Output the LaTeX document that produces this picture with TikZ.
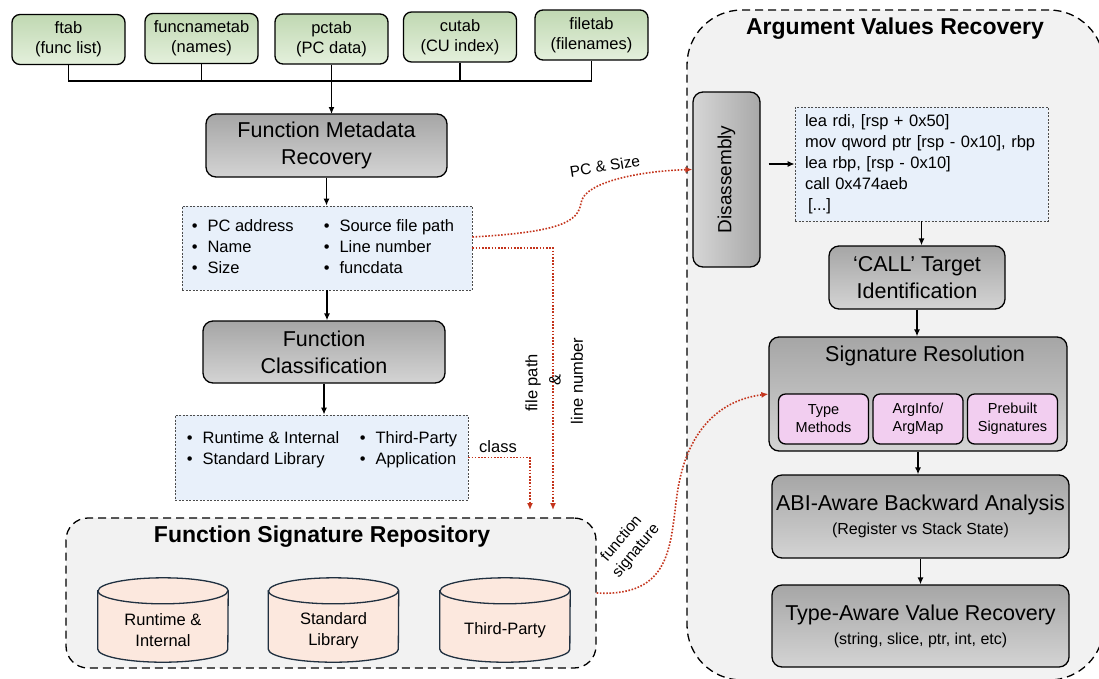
\documentclass[tikz,border=0pt]{standalone}
\usepackage{fontspec}
\setmainfont{Liberation Sans}
\usetikzlibrary{arrows.meta}

\definecolor{tblgreen}{RGB}{192,216,178}
\definecolor{tblgreenlight}{RGB}{228,240,220}
\definecolor{infoblue}{RGB}{232,240,250}
\definecolor{flowred}{RGB}{196,52,28}
\definecolor{dbfill}{RGB}{252,232,222}
\definecolor{dbline}{RGB}{32,48,64}
\definecolor{subpink}{RGB}{242,206,240}

\begin{document}
\begin{tikzpicture}[x=1pt, y=-1pt, >={Latex[length=7pt,width=6pt]}]
	\tikzstyle{tbl}=[draw, rounded corners=8pt, line width=1.3pt, top color=tblgreen, bottom color=tblgreenlight, minimum width=113pt, minimum height=50pt, align=center, font=\fontsize{16.5}{20}\selectfont]
	\tikzstyle{stage}=[draw, rounded corners=10pt, line width=1.3pt, top color=black!35, bottom color=black!17, align=center, font=\fontsize{21.5}{27}\selectfont]
	\tikzstyle{info}=[draw=black!70, dash pattern=on 2pt off 1.5pt, line width=0.8pt, fill=infoblue]
	\tikzstyle{group}=[draw, dash pattern=on 8pt off 5pt, line width=1.3pt, fill=black!5]
	\tikzstyle{grouptitle}=[font=\bfseries\fontsize{23}{28}\selectfont]
	\tikzstyle{db}=[minimum width=130pt, minimum height=58pt, inner sep=0pt]
	\tikzstyle{dbtext}=[align=center, font=\fontsize{16.5}{21}\selectfont]
	\tikzstyle{sub}=[draw, rounded corners=7pt, fill=subpink, line width=1.3pt, minimum width=90pt, minimum height=50pt, align=center, font=\fontsize{14.5}{18}\selectfont]
	\tikzstyle{bullets}=[font=\fontsize{16.5}{21}\selectfont, inner sep=0pt]
	\tikzstyle{lbl}=[font=\fontsize{16.5}{20}\selectfont]
	\tikzstyle{redflow}=[->, draw=flowred, line width=1.6pt, dash pattern=on 1.6pt off 1.6pt]

	\useasboundingbox (0,0) rectangle (1099,678);
	\fill[white] (0,0) rectangle (1099,678);

	% the two dashed groups
	\node[group, rounded corners=55pt, minimum width=417pt, minimum height=670pt] (avr) at (895.5,345) {};
	\node[grouptitle] (avrtitle) at (895,29) {Argument Values Recovery};
	\node[group, rounded corners=22pt, minimum width=530pt, minimum height=150pt] (repo) at (331,593) {};
	\node[grouptitle] (repotitle) at (322,537) {Function Signature Repository};

	% pclntab tables
	\node[tbl] (ftab) at (68.5,39.5) {ftab\\(func list)};
	\node[tbl] (funcnametab) at (201.5,38.5) {funcnametab\\(names)};
	\node[tbl] (pctab) at (331.5,39) {pctab\\(PC data)};
	\node[tbl] (cutab) at (460,37) {cutab\\(CU index)};
	\node[tbl] (filetab) at (591.5,35) {filetab\\(filenames)};

	\coordinate (bus) at (332,81);
	\draw[line width=1.3pt] (ftab.south) |- (filetab.south |- bus) -- (filetab.south);
	\draw[line width=1.3pt] (funcnametab.south) -- (funcnametab.south |- bus);
	\draw[line width=1.3pt] (cutab.south) -- (cutab.south |- bus);
	\draw[->, line width=1.3pt] (pctab.south) -- (pctab.south |- 0,114);

	% left column
	\node[stage, minimum width=241pt, minimum height=63pt] (fmr) at (326.5,145.5) {Function Metadata\\Recovery};
	\node[info, minimum width=290pt, minimum height=84pt] (meta) at (327,248) {};
	\node[bullets] (metalist) at (323,248) {\begin{tabular}{@{}p{132pt}@{}l@{}}
		\textbullet\hspace{10pt}PC address & \textbullet\hspace{10pt}Source file path\\
		\textbullet\hspace{10pt}Name & \textbullet\hspace{10pt}Line number\\
		\textbullet\hspace{10pt}Size & \textbullet\hspace{10pt}funcdata
	\end{tabular}};
	\node[stage, minimum width=242pt, minimum height=62pt] (fcls) at (324,352) {Function\\Classification};
	\node[info, minimum width=293pt, minimum height=85pt] (cls) at (321.5,457.5) {};
	\node[bullets] (clslist) at (322,449.5) {\begin{tabular}{@{}p{173pt}@{}l@{}}
		\textbullet\hspace{10pt}Runtime \& Internal & \textbullet\hspace{10pt}Third-Party\\
		\textbullet\hspace{10pt}Standard Library & \textbullet\hspace{10pt}Application
	\end{tabular}};

	\draw[->, line width=1.3pt] (fmr.south) -- (fmr.south |- meta.north);
	\draw[->, line width=1.3pt] (meta.south) -- (meta.south |- fcls.north);
	\draw[->, line width=1.3pt] (fcls.south) -- (fcls.south |- cls.north);

	% signature databases
	\node[db] (dbrt) at (163,620) {};
	\node[db] (dbstd) at (333.5,620) {};
	\node[db] (dbtp) at (505,620) {};
	\foreach \db in {dbrt,dbstd,dbtp}{
		\draw[draw=dbline, fill=dbfill, line width=1.3pt] (\db.north west) -- (\db.south west) arc[start angle=180, end angle=360, x radius=65pt, y radius=13pt] -- (\db.north east) arc[start angle=0, end angle=180, x radius=65pt, y radius=13pt] -- cycle;
		\draw[draw=dbline, line width=1.3pt] (\db.north west) arc[start angle=180, end angle=360, x radius=65pt, y radius=13pt];
	}
	\node[dbtext] (dbrttext) at (163,630) {Runtime \&\\Internal};
	\node[dbtext] (dbstdtext) at (333.5,631) {Standard\\Library};
	\node[dbtext] (dbtptext) at (505,630) {Third-Party};

	% argument recovery pipeline
	\node[stage, left color=black!16, right color=black!34, minimum width=67pt, minimum height=175pt, font=\fontsize{19}{23}\selectfont] (dis) at (726.5,179.5) {\rotatebox{90}{Disassembly}};
	\node[info, text width=233pt, inner xsep=10pt, minimum height=114pt, align=left, font=\fontsize{16.5}{21}\selectfont] (code) at (921.5,164) {lea rdi, [rsp + 0x50]\\mov qword ptr [rsp - 0x10], rbp\\lea rbp, [rsp - 0x10]\\call 0x474aeb\\\hspace{3pt}[...]};
	\node[stage, minimum width=176pt, minimum height=63pt] (calltgt) at (917,277.5) {‘CALL’ Target\\Identification};
	\node[stage, minimum width=298pt, minimum height=114pt] (sigres) at (918,394) {};
	\node[font=\fontsize{21.5}{26}\selectfont] (sigrestitle) at (925,356) {Signature Resolution};
	\node[sub] (typemeth) at (823.5,419) {Type\\Methods};
	\node[sub] (arginfo) at (918,419) {ArgInfo/\\ArgMap};
	\node[sub] (prebuilt) at (1012.5,419) {Prebuilt\\Signatures};
	\node[stage, minimum width=297pt, minimum height=83pt] (abi) at (920.5,516.5) {ABI-Aware Backward Analysis\\[-3pt]{\fontsize{16}{20}\selectfont (Register vs Stack State)}};
	\node[stage, minimum width=297pt, minimum height=82pt] (tav) at (920.5,626) {Type-Aware Value Recovery\\[-3pt]{\fontsize{16}{20}\selectfont (string, slice, ptr, int, etc)}};

	\draw[->, line width=1.3pt, shorten <=8pt] (dis.east |- code.west) -- (code.west);
	\draw[->, line width=1.3pt] (code.south) -- (code.south |- calltgt.north);
	\draw[->, line width=1.3pt] (calltgt.south) -- (calltgt.south |- sigres.north);
	\draw[->, line width=1.3pt] (sigres.south) -- (sigres.south |- abi.north);
	\draw[->, line width=1.3pt] (abi.south) -- (abi.south |- tav.north);

	% red data flows
	\coordinate (clsdrop) at (530,518);
	\coordinate (fpdrop) at (553,518);
	\draw[redflow, shorten >=8pt] (cls.east) -| (clsdrop);
	\draw[redflow, shorten >=8pt] (meta.east) -| (fpdrop);
	\draw[redflow] ([yshift=11pt]meta.east) .. controls (560,232) and (578,222) .. (581,203) .. controls (584,182) and (640,171) .. ([yshift=10pt]dis.west);
	\draw[redflow] (repo.east) .. controls (672,597) and (670,545) .. (677,495) .. controls (686,430) and (720,400) .. (sigres.west);

	\node[lbl] (classlbl) at (498,447) {class};
	\node[lbl, rotate=90] (fplbl) at (533,383) {file path};
	\node[lbl, rotate=90] (amplbl) at (555,380) {\&};
	\node[lbl, rotate=90] (lnlbl) at (577,381) {line number};
	\node[lbl, rotate=9, font=\fontsize{15.5}{19}\selectfont] (pclbl) at (605,166) {PC \& Size};
	\node[lbl, rotate=50, align=center, font=\fontsize{15.5}{19}\selectfont] (fslbl) at (629,545) {function\\signature};
\end{tikzpicture}
\end{document}
